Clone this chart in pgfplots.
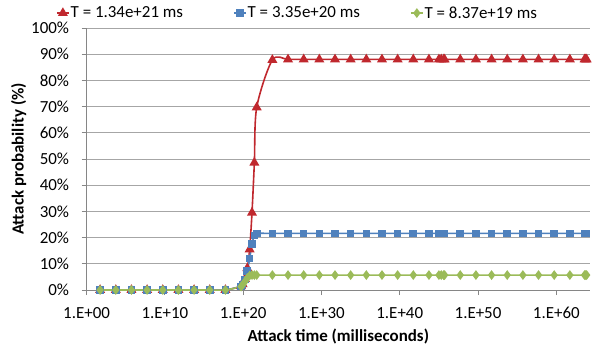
\documentclass[border=0pt]{standalone}
\usepackage{pgfplots}
\usepackage{pgfplotstable}
\pgfplotsset{compat=1.18}
\usepackage{fontspec}
\setmainfont{Carlito}
\definecolor{cred}{HTML}{C0282E}
\definecolor{cblue}{HTML}{4F81BD}
\definecolor{cgreen}{HTML}{9BBB59}
\definecolor{cgrid}{HTML}{A6A6A6}
\definecolor{caxis}{HTML}{868686}
\pgfplotstableread{
x red blue green
5.36e1 0 0 0
5.36e3 0 0 0
5.36e5 0 0 0
5.36e7 0 0 0
5.36e9 0 0 0
5.36e11 0 0 0
5.36e13 0 0 0
5.36e15 0 0 0
5.36e17 0 0 0
5.36e19 1.4 1.4 1.3
8.37e19 2.2 2.1 1.9
1.67e20 4.2 4.0 3.2
3.35e20 8.3 7.2 4.6
6.7e20 15.5 12.0 5.5
1.34e21 29.5 17.6 5.7
2.68e21 48.6 20.8 5.7
5.36e21 69.7 21.6 5.7
5.36e23 87.8 21.6 5.7
5.36e25 88 21.6 5.7
5.36e27 88 21.6 5.7
5.36e29 88 21.6 5.7
5.36e31 88 21.6 5.7
5.36e33 88 21.6 5.7
5.36e35 88 21.6 5.7
5.36e37 88 21.6 5.7
5.36e39 88 21.6 5.7
5.36e41 88 21.6 5.7
5.36e43 88 21.6 5.7
1e45 88 21.6 5.7
2e45 88 21.6 5.7
4e45 88 21.6 5.7
5.36e45 88 21.6 5.7
5.36e47 88 21.6 5.7
5.36e49 88 21.6 5.7
5.36e51 88 21.6 5.7
5.36e53 88 21.6 5.7
5.36e55 88 21.6 5.7
5.36e57 88 21.6 5.7
5.36e59 88 21.6 5.7
5.36e61 88 21.6 5.7
4e63 88 21.6 5.7
5.36e63 88 21.6 5.7
7.5e63 88 21.6 5.7
}\data
\begin{document}
\begin{tikzpicture}
\path[use as bounding box] (-86.6bp,-60bp) rectangle (513.4bp,290bp);
\begin{axis}[
  at={(0,0)}, anchor=south west,
  scale only axis, width=503.4bp, height=262bp,
  xmode=log, xmin=1, xmax=2e64,
  ymin=0, ymax=100,
  xtick={1,1e10,1e20,1e30,1e40,1e50,1e60},
  xticklabels={1.E+00,1.E+10,1.E+20,1.E+30,1.E+40,1.E+50,1.E+60},
  xminorticks=false,
  ytick={0,10,20,30,40,50,60,70,80,90,100},
  yticklabels={0\%,10\%,20\%,30\%,40\%,50\%,60\%,70\%,80\%,90\%,100\%},
  ymajorgrids,
  grid style={cgrid, line width=0.8bp},
  axis x line*=bottom, axis y line*=left,
  axis line style={caxis, line width=0.8bp, -},
  tick align=outside, major tick length=5bp,
  tick style={caxis, line width=0.8bp},
  tick label style={font=\fontsize{17}{20}\selectfont},
  xticklabel style={yshift=-9bp},
  yticklabel style={xshift=-9bp},
  xlabel={Attack time (milliseconds)},
  ylabel={Attack probability (\%)},
  label style={font=\fontsize{17}{20}\selectfont\bfseries},
  xlabel style={at={(axis description cs:0.5,0)}, yshift=-46bp, anchor=center},
  ylabel style={at={(axis description cs:-0.135,0.5)}, anchor=center},
  legend columns=3,
  legend style={draw=none, fill=none, at={(axis description cs:-0.061,1.057)}, anchor=west,
    font=\fontsize{17}{20}\selectfont, inner sep=0pt,
    /tikz/every even column/.append style={column sep=49bp},
    nodes={inner xsep=1bp}},
  legend image code/.code={\draw[mark repeat=2,mark phase=2,#1] plot coordinates {(0bp,0bp) (6bp,0bp) (12bp,0bp)};},
]
\addplot[cred, line width=1.6bp, smooth, mark=triangle*, mark size=4.2bp, mark options={solid, fill=cred}] table[x=x,y=red] {\data};
\addlegendentry{T = 1.34e+21 ms}
\addplot[cblue, line width=1.6bp, smooth, mark=square*, mark size=3.0bp, mark options={solid, fill=cblue}] table[x=x,y=blue] {\data};
\addlegendentry{T = 3.35e+20 ms}
\addplot[cgreen, line width=1.6bp, smooth, mark=diamond*, mark size=3.6bp, mark options={solid, fill=cgreen}] table[x=x,y=green] {\data};
\addlegendentry{T = 8.37e+19 ms}
\end{axis}
\end{tikzpicture}
\end{document}
